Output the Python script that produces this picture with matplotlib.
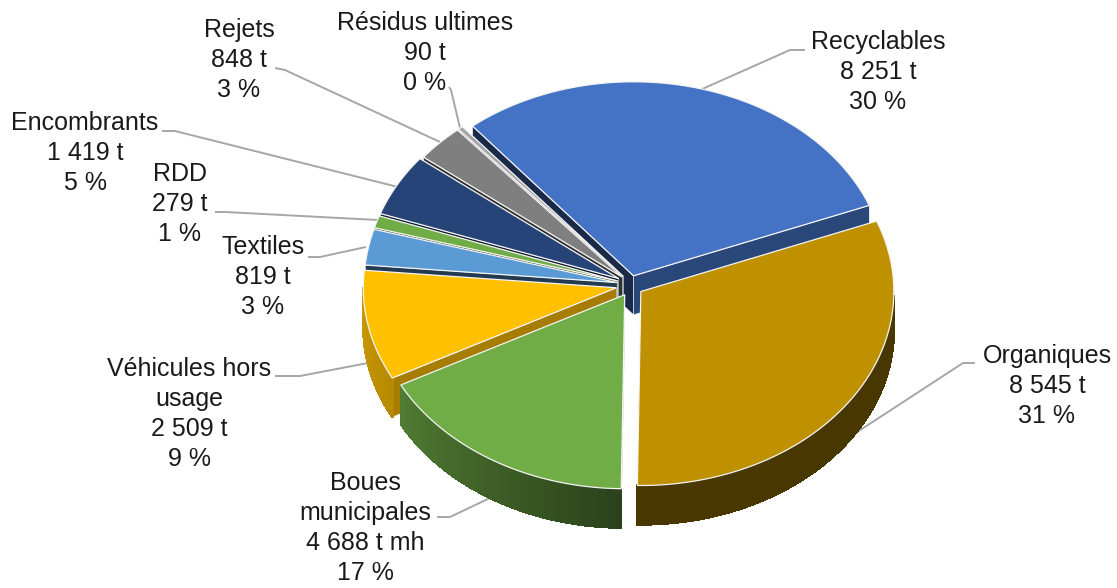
import numpy as np
import matplotlib
matplotlib.use('Agg')
import matplotlib.pyplot as plt
from matplotlib.collections import PolyCollection
from matplotlib.patches import Polygon
from matplotlib.colors import to_rgb

plt.rcParams['font.family'] = ['Liberation Sans', 'DejaVu Sans']

# data
names = ['Recyclables', 'Organiques', 'Boues\nmunicipales', 'Véhicules hors\nusage', 'Textiles',
         'RDD', 'Encombrants', 'Rejets', 'Résidus ultimes']
tonnes = [8251, 8545, 4688, 2509, 819, 279, 1419, 848, 90]
units = ['t', 't', 't mh', 't', 't', 't', 't', 't', 't']
percents = [30, 31, 17, 9, 3, 1, 5, 3, 0]

# styles
colors = ['#4472C4', '#BF9000', '#70AD47', '#FFC000', '#5B9BD5', '#70AD47', '#264478', '#7F7F7F', '#A5A5A5']
explode = [10, 12, 12, 15, 14, 14, 14, 12, 12]
label_pos = [(878, 72), (1047, 386), (365, 528), (189, 414), (263, 277), (180, 204), (85, 153), (239, 60), (425, 53)]
leaders = [[(700, 90), (790, 50), (805, 50)],
           [(848, 438), (963, 363), (975, 363)],
           [(490, 498), (450, 517), (437, 517)],
           [(368, 363), (300, 376), (275, 376)],
           [(366, 247), (320, 257), (308, 257)],
           [(378, 220), (225, 212), (215, 212)],
           [(398, 187), (175, 131), (162, 131)],
           [(440, 142), (285, 70), (275, 68)],
           [(460, 128), (451, 90), (449, 87)]]
cx, cy = 631, 285
rx, ry = 253, 194
wall = 39
start_angle = 129.5


def rim(apex, t):
    t = np.radians(t)
    return np.column_stack([apex[0] + rx * np.cos(t), apex[1] - ry * np.sin(t)])


def wall_shade(t):
    t = (t + 180) % 360 - 180
    if t > 0:
        t -= 360
    return np.interp(t, [-185, -153, -91], [0.80, 0.72, 0.38])


def dark(color, k):
    return tuple(c * k for c in to_rgb(color))


fig = plt.figure(figsize=(11.17, 5.88), dpi=100)
ax = fig.add_axes([0, 0, 1, 1])
ax.set_xlim(0, 1117)
ax.set_ylim(588, 0)
ax.axis('off')

sweeps = np.array(tonnes) / sum(tonnes) * 360
ends = start_angle - np.cumsum(sweeps)
starts = ends + sweeps
mids = (starts + ends) / 2
apexes = [(cx + e * np.cos(np.radians(m)), cy - e * 0.95 * np.sin(np.radians(m))) for e, m in zip(explode, mids)]

# back slices first
order = sorted(range(len(names)), key=lambda i: -np.sin(np.radians(mids[i])))
for z, i in enumerate(order):
    apex = apexes[i]
    t1, t2 = starts[i], ends[i]
    col = colors[i]
    zo = 2 + z

    # cut faces
    for t, visible, shade in [(t1, np.cos(np.radians(t1)) < 0, 0.65 if np.sin(np.radians(t1)) < 0 else 0.38),
                              (t2, np.cos(np.radians(t2)) > 0, 0.62)]:
        if not visible:
            continue
        p = rim(apex, np.array([t]))[0]
        face = [apex, p, (p[0], p[1] + wall), (apex[0], apex[1] + wall)]
        ax.add_patch(Polygon(face, closed=True, fc=dark(col, shade), ec='white', lw=0.4, zorder=zo))

    # outer wall, only the part turned towards the viewer
    ts = np.linspace(t1, t2, 80)
    ts = ts[np.sin(np.radians(ts)) <= 0]
    if len(ts) > 1:
        top = rim(apex, ts)
        strips = []
        cols = []
        for k in range(len(ts) - 1):
            a, b = top[k], top[k + 1]
            strips.append([a, b, (b[0], b[1] + wall), (a[0], a[1] + wall)])
            cols.append(dark(col, wall_shade((ts[k] + ts[k + 1]) / 2)))
        ax.add_collection(PolyCollection(strips, facecolors=cols, edgecolors=cols, linewidths=1.0,
                                         antialiaseds=False, zorder=zo))

    # top
    arc = rim(apex, np.linspace(t1, t2, 120))
    ax.add_patch(Polygon(np.vstack([apex, arc]), closed=True, fc=col, ec='#F4F4F4', lw=0.9, zorder=zo + 0.5))

for line in leaders:
    xs, ys = zip(*line)
    ax.plot(xs, ys, color='#A6A6A6', lw=1.4, zorder=1, solid_capstyle='butt')

for name, t, u, pc, pos in zip(names, tonnes, units, percents, label_pos):
    val = f'{t:,}'.replace(',', ' ')
    ax.text(pos[0], pos[1], f'{name}\n{val} {u}\n{pc} %', ha='center', va='center',
            fontsize=18, color='#1A1A1A', linespacing=1.33, zorder=50)

fig.savefig('out.png', dpi=100)
